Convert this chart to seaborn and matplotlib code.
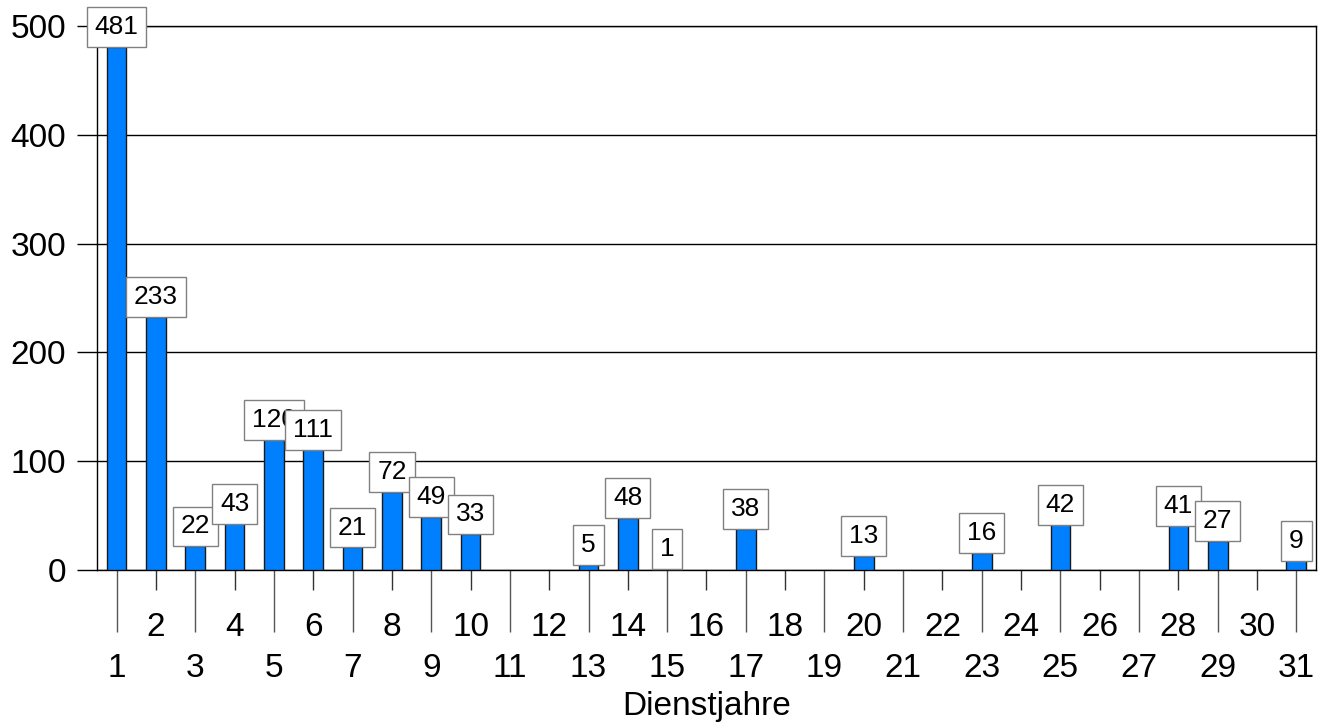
import pandas as pd
import matplotlib.pyplot as plt
import seaborn as sns

# Dienstjahre 1..31 and counts
years = [str(i) for i in range(1, 32)]
counts = [481, 233, 22, 43, 120, 111, 21, 72, 49, 33,
          0, 0, 5, 48, 1, 0, 38, 0, 0, 13,
          0, 0, 16, 0, 42, 0, 0, 41, 27, 0, 9]
y_ticks = [0, 100, 200, 300, 400, 500]

df = pd.DataFrame({'Dienstjahre': years, 'Anzahl': counts})

sns.set_style('ticks')
plt.rcParams['font.family'] = ['Liberation Sans', 'DejaVu Sans']
plt.rcParams['text.color'] = 'black'
plt.rcParams['axes.labelcolor'] = 'black'

fig = plt.figure(figsize=(13.23, 7.28), dpi=100)
ax = fig.add_axes([0.0733, 0.217, 0.9214, 0.7473])

sns.barplot(data=df, x='Dienstjahre', y='Anzahl', color='#0080ff',
            edgecolor='#1a1a1a', linewidth=1, width=0.5, saturation=1, ax=ax, zorder=3)
# empty years: no outline
for p in ax.patches:
    if p.get_height() == 0:
        p.set_linewidth(0)

ax.set_ylim(0, 500)
ax.set_xlim(-0.5, len(years) - 0.5)
ax.set_yticks(y_ticks)
ax.grid(axis='y', color='black', linewidth=1, zorder=0)
for s in ax.spines.values():
    s.set_color('black')
    s.set_linewidth(1)

# staggered x labels: odd years low with long ticks, even years high with short ticks
ax.set_xticks(range(0, 31, 2), labels=years[0::2])
ax.set_xticks(range(1, 31, 2), labels=years[1::2], minor=True)
ax.tick_params(axis='x', which='major', length=44.6, width=1, color='#555555', pad=15,
               labelsize=24, labelcolor='black')
ax.tick_params(axis='x', which='minor', length=14.4, width=1, color='#333333', pad=16,
               labelsize=24, labelcolor='black')
ax.tick_params(axis='y', length=14.4, width=1, color='black', pad=8, labelsize=24, labelcolor='black')

ax.set_xlabel('Dienstjahre', fontsize=24, labelpad=5)
ax.set_ylabel('')

labels = [str(v) if v else '' for v in counts]
ax.bar_label(ax.containers[0], labels=labels, padding=5.5, fontsize=19,
             bbox=dict(boxstyle='square,pad=0.3', fc='white', ec='#808080', lw=1), zorder=4)

fig.savefig('out.png', dpi=100)
